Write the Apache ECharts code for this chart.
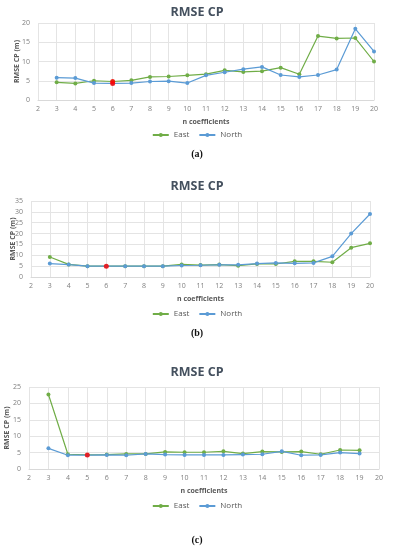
<!DOCTYPE html>
<html>
<head>
<meta charset="utf-8">
<script src="https://cdn.jsdelivr.net/npm/echarts@6/dist/echarts.min.js"></script>
<style>html,body{margin:0;padding:0;background:#fff;}#c{width:394px;height:550px;}</style>
</head>
<body>
<div id="c"></div>
<script>
// ---- data ----
var nA = [3,4,5,6,7,8,9,10,11,12,13,14,15,16,17,18,19,20];
var eastA = [4.6,4.3,5.0,4.8,5.1,6.0,6.1,6.4,6.7,7.7,7.3,7.5,8.4,6.7,16.6,16.0,16.1,10.0];
var northA = [5.8,5.7,4.4,4.3,4.4,4.8,4.9,4.4,6.4,7.2,8.0,8.6,6.5,6.0,6.5,7.9,18.5,12.6];
var redA = [[6,4.8],[6,4.3]];

var nB = [3,4,5,6,7,8,9,10,11,12,13,14,15,16,17,18,19,20];
var eastB = [9.2,5.8,5.0,5.0,5.0,5.0,5.0,5.8,5.5,5.7,5.2,6.0,6.0,7.2,7.2,6.8,13.5,15.5];
var northB = [6.2,5.7,5.0,5.0,5.0,5.0,5.0,5.3,5.4,5.6,5.6,6.2,6.5,6.3,6.5,9.5,20.0,29.0];
var redB = [[6,5.0]];

var nC = [3,4,5,6,7,8,9,10,11,12,13,14,15,16,17,18,19];
var eastC = [22.7,4.5,4.3,4.4,4.6,4.6,5.2,5.1,5.1,5.4,4.7,5.3,5.2,5.3,4.5,5.8,5.7];
var northC = [6.3,4.2,4.2,4.3,4.2,4.6,4.4,4.3,4.3,4.3,4.4,4.5,5.4,4.2,4.3,5.0,4.7];
var redC = [[5,4.3]];

var yMax = [20,35,25];
var captions = ['(a)','(b)','(c)'];

// ---- layout ----
var GREEN = '#70AD47', BLUE = '#5B9BD5', RED = '#FF0000';
var grids = [
  {left:38, right:20, top:23, height:77},
  {left:31, right:24, top:201, height:76},
  {left:29, right:15, top:387, height:82}
];
var titleTops = [1, 175, 361];
var legendTops = [126, 305, 497];
var captionY = [154, 333, 540];
var yNameX = [17, 13, 7];

function pairs(xs, ys){ return xs.map(function(x,i){ return [x, ys[i]]; }); }

var sets = [
  {n:nA, e:eastA, no:northA, r:redA},
  {n:nB, e:eastB, no:northB, r:redB},
  {n:nC, e:eastC, no:northC, r:redC}
];

var option = {
  backgroundColor:'#fff',
  animation:false,
  title: [], legend: [], grid: [], xAxis: [], yAxis: [], series: [], graphic: []
};

sets.forEach(function(s, i){
  option.title.push({
    text:'RMSE CP', left:'center', top:titleTops[i],
    textStyle:{fontFamily:'Open Sans', fontSize:12.5, fontWeight:'bold', color:'#44505E'}
  });
  option.grid.push({left:grids[i].left, right:grids[i].right, top:grids[i].top, height:grids[i].height, containLabel:false});
  option.xAxis.push({
    type:'value', gridIndex:i, min:2, max:20, interval:1,
    name:'n coefficients', nameLocation:'middle', nameGap:18,
    nameTextStyle:{fontFamily:'Open Sans', fontSize:7, fontWeight:'bold', color:'#595959'},
    axisLine:{show:true, lineStyle:{color:'#D9D9D9'}},
    axisTick:{show:false},
    axisLabel:{fontFamily:'Open Sans', fontSize:7, color:'#7F7F7F', margin:5},
    splitLine:{show:true, lineStyle:{color:'#E4E4E4', width:1}}
  });
  option.yAxis.push({
    type:'value', gridIndex:i, min:0, max:yMax[i], interval:5,
    axisLine:{show:false}, axisTick:{show:false},
    axisLabel:{fontFamily:'Open Sans', fontSize:7, color:'#7F7F7F', margin:8},
    splitLine:{show:true, lineStyle:{color:'#E4E4E4', width:1}}
  });
  option.graphic.push({
    type:'text',
    rotation:Math.PI/2,
    style:{text:'RMSE CP (m)', x:0, y:0, align:'center', verticalAlign:'middle',
      font:'bold 7px "Open Sans"', fill:'#595959'},
    x:yNameX[i], y:grids[i].top + grids[i].height/2
  });
  option.graphic.push({
    type:'text', x:197, y:captionY[i],
    style:{text:captions[i], align:'center', verticalAlign:'middle',
      font:'bold 10px "Liberation Serif"', fill:'#111'}
  });
  option.legend.push({
    top:legendTops[i], left:'center', itemWidth:16, itemHeight:5, itemGap:9,
    textStyle:{fontFamily:'Open Sans', fontSize:8, color:'#595959'},
    data:['East','North']
  });
  option.series.push({
    name:'East', type:'line', xAxisIndex:i, yAxisIndex:i, data:pairs(s.n, s.e),
    symbol:'circle', symbolSize:4, itemStyle:{color:GREEN}, lineStyle:{color:GREEN, width:1.2}
  });
  option.series.push({
    name:'North', type:'line', xAxisIndex:i, yAxisIndex:i, data:pairs(s.n, s.no),
    symbol:'circle', symbolSize:4, itemStyle:{color:BLUE}, lineStyle:{color:BLUE, width:1.2}
  });
  option.series.push({
    name:'best', type:'scatter', xAxisIndex:i, yAxisIndex:i, data:s.r,
    symbol:'circle', symbolSize:5, itemStyle:{color:RED}, z:5
  });
});

var chart = echarts.init(document.getElementById('c'), null, {renderer:'canvas'});
chart.setOption(option);
</script>
</body>
</html>
